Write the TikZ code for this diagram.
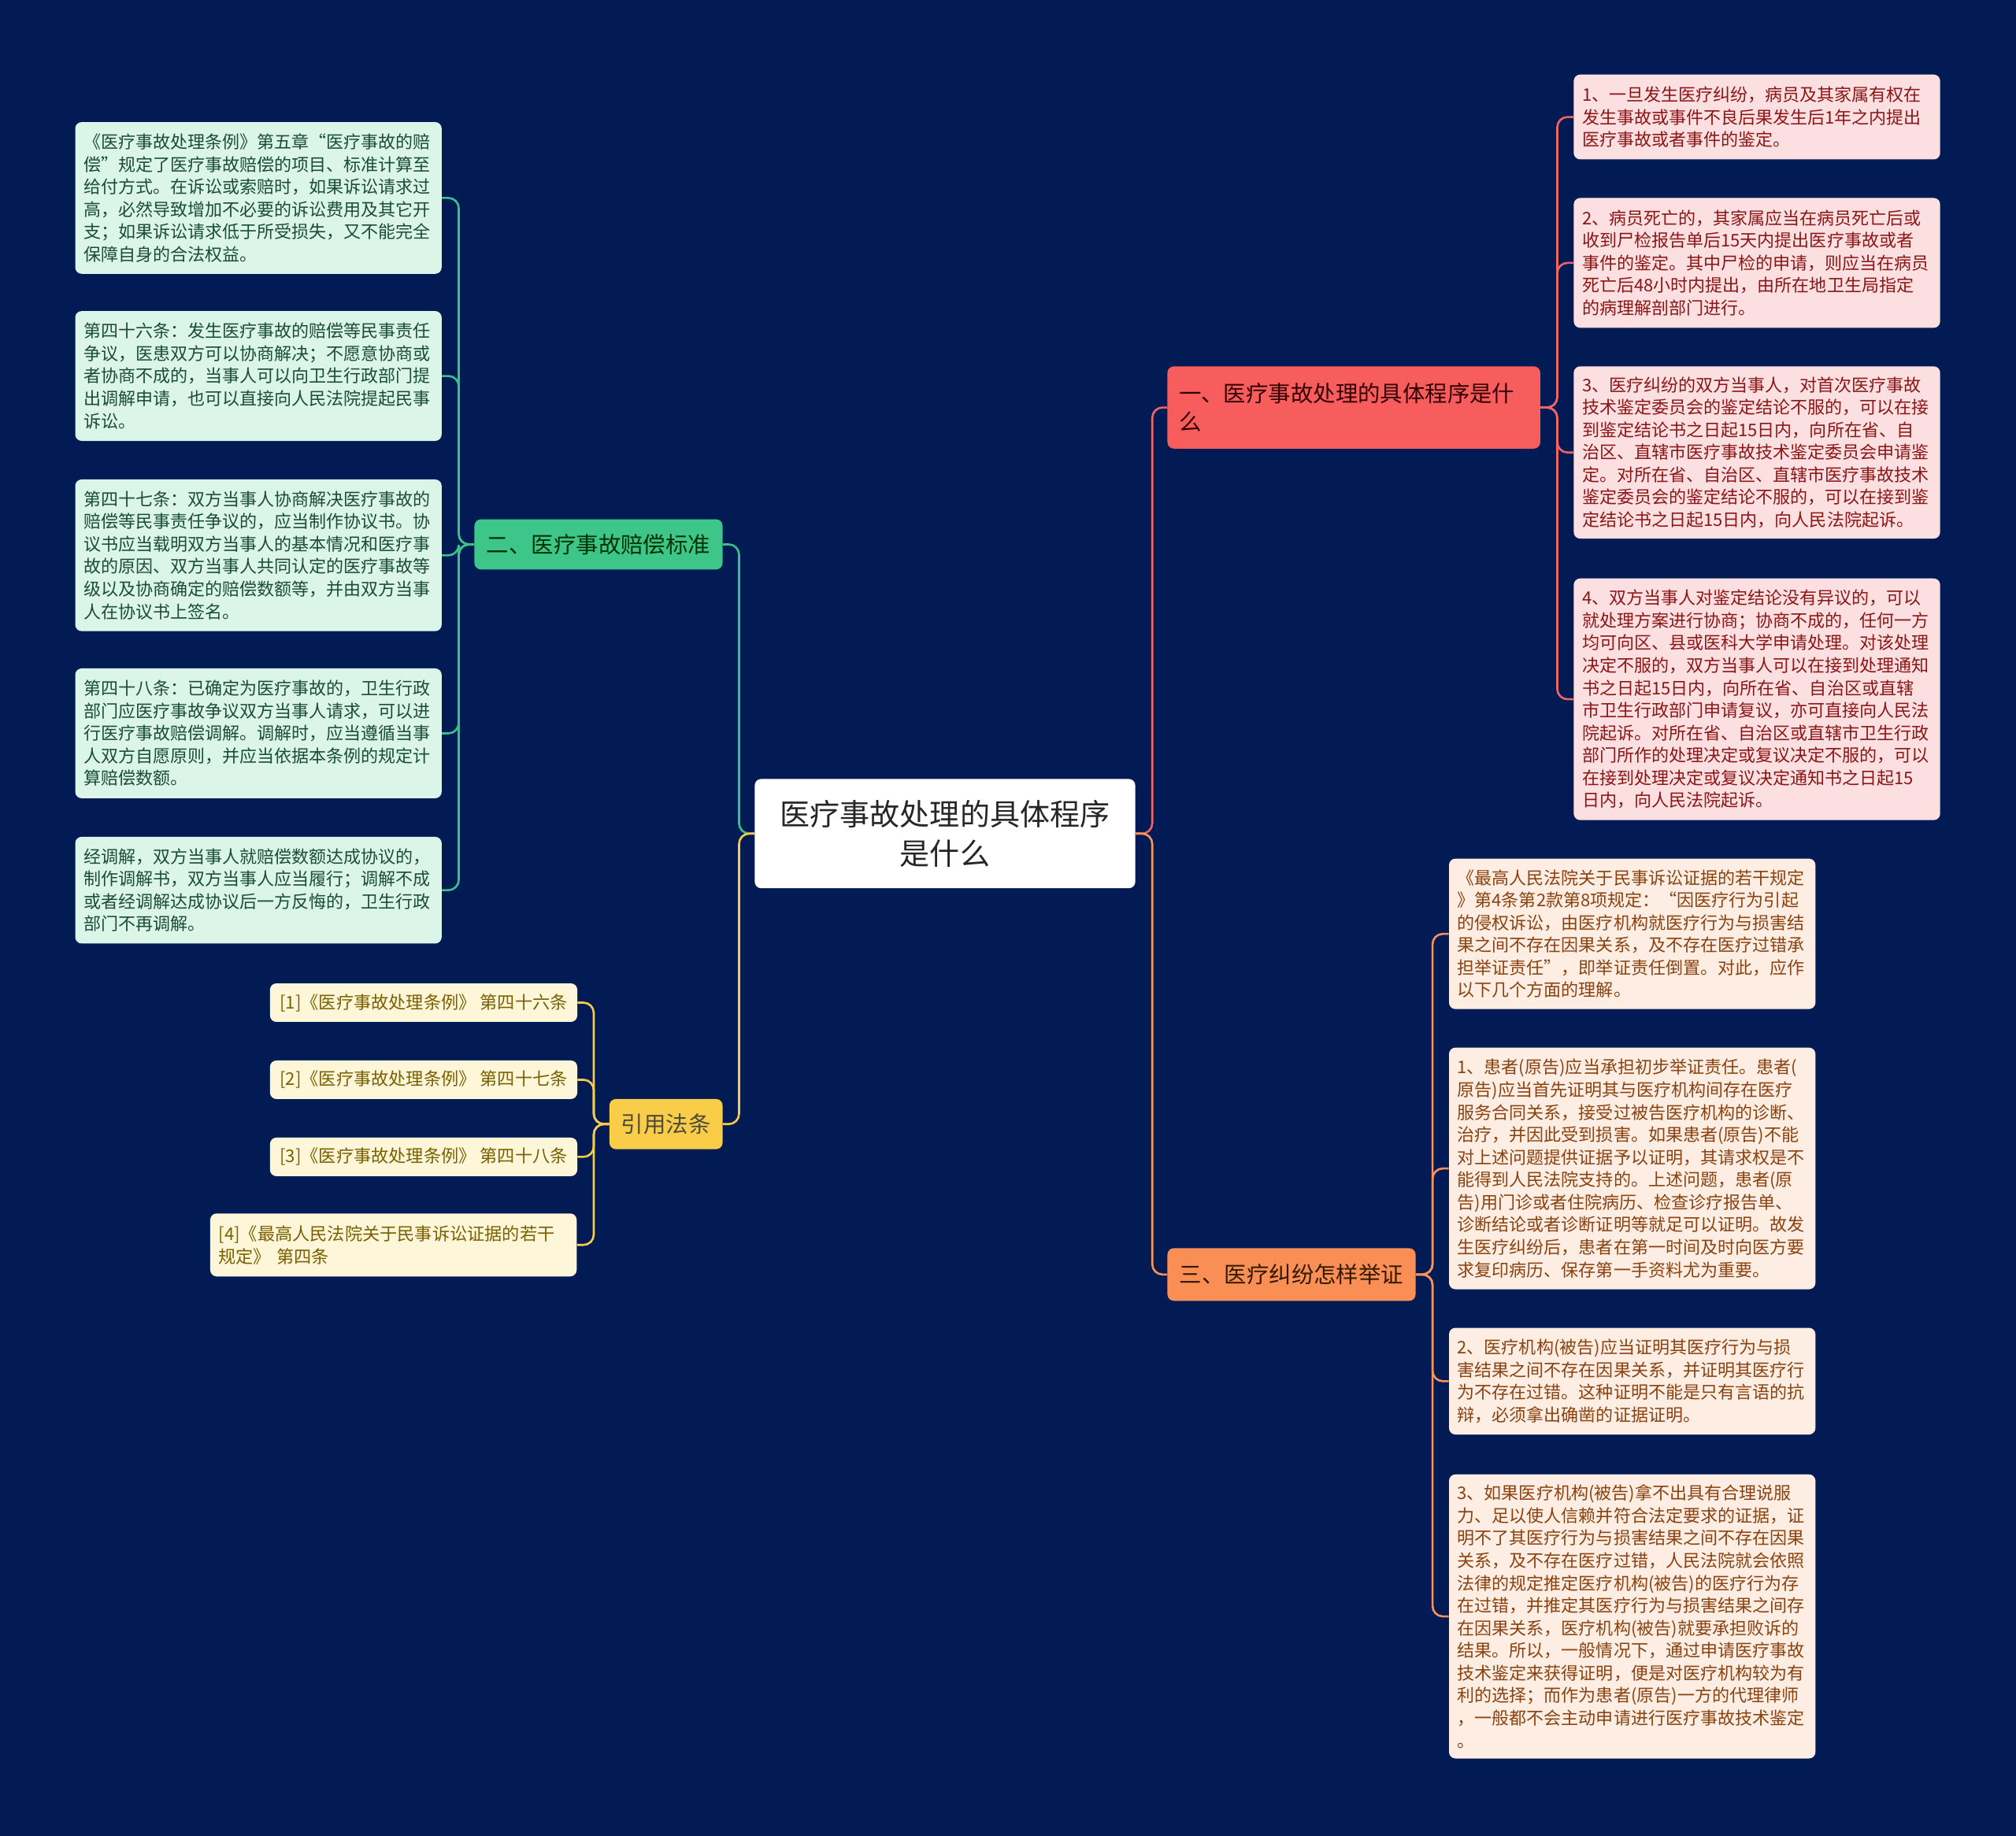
\documentclass[tikz,border=0pt]{standalone}
\usepackage{fontspec}
\setmainfont{Noto Sans CJK SC}
\usepackage{xcolor}
\usepackage{tikz}
\usetikzlibrary{positioning}
\definecolor{cBack}{HTML}{021B55}
\definecolor{cRed}{HTML}{F75D5D}
\definecolor{cRedLine}{HTML}{F26464}
\definecolor{cRedLeaf}{HTML}{FCDFE0}
\definecolor{cRedText}{HTML}{8C1616}
\definecolor{cOrange}{HTML}{FA8F55}
\definecolor{cOrangeLine}{HTML}{F9935A}
\definecolor{cOrangeLeaf}{HTML}{FDEDE2}
\definecolor{cOrangeText}{HTML}{8A4210}
\definecolor{cGreen}{HTML}{3DC58A}
\definecolor{cGreenLine}{HTML}{3CC08A}
\definecolor{cGreenLeaf}{HTML}{DBF5E9}
\definecolor{cGreenText}{HTML}{1B4D36}
\definecolor{cYellow}{HTML}{F9CD47}
\definecolor{cYellowLine}{HTML}{F7CC4A}
\definecolor{cYellowLeaf}{HTML}{FEF6D9}
\definecolor{cYellowText}{HTML}{7A6000}
\tikzset{
  rootbox/.style={rectangle, rounded corners=5pt, fill=white, text=black!85, align=center, minimum width=296pt, minimum height=85pt, inner sep=0pt, font=\fontsize{23.3pt}{31pt}\selectfont},
  mainbox/.style={rectangle, rounded corners=5pt, align=left, inner xsep=9pt, inner ysep=0pt, font=\fontsize{17.4pt}{22pt}\selectfont},
  leafbox/.style={rectangle, rounded corners=5pt, align=left, text width=272pt, inner xsep=6.5pt, inner ysep=0pt, font=\fontsize{13.5pt}{17.5pt}\selectfont},
  refbox/.style={rectangle, rounded corners=5pt, align=left, inner xsep=6.5pt, inner ysep=0pt, fill=cYellowLeaf, text=cYellowText, font=\fontsize{13.6pt}{17.5pt}\selectfont},
  link/.style={line width=1.6pt, rounded corners=8pt}
}

\begin{document}
\begin{tikzpicture}[x=1pt, y=-1pt]
  \useasboundingbox (0,0) rectangle (1568,1428);
  \fill[cBack] (-4,-4) rectangle (1572,1432);
  \node[rootbox] (root) at (735,648.5) {医疗事故处理的具体程序\\是什么};
  \node[mainbox, fill=cRed, text=black!80!red, text width=272pt, minimum height=64pt] (b1) at (1053,317) {一、医疗事故处理的具体程序是什\\么};
  \node[mainbox, fill=cOrange, text=black!80!orange, minimum width=193pt, minimum height=41pt] (b3) at (1004.5,991.5) {三、医疗纠纷怎样举证};
  \node[mainbox, fill=cGreen, text=black!80!green, minimum width=193pt, minimum height=39pt] (b2) at (465.5,423.5) {二、医疗事故赔偿标准};
  \node[mainbox, fill=cYellow, text=black!80!yellow, minimum width=88pt, minimum height=39pt] (y0) at (518,874.5) {引用法条};
  \node[leafbox, fill=cRedLeaf, text=cRedText, minimum height=66pt] (r1) at (1366.5,91) {1、一旦发生医疗纠纷，病员及其家属有权在\\发生事故或事件不良后果发生后1年之内提出\\医疗事故或者事件的鉴定。};
  \node[leafbox, fill=cRedLeaf, text=cRedText, minimum height=101pt] (r2) at (1366.5,204.5) {2、病员死亡的，其家属应当在病员死亡后或\\收到尸检报告单后15天内提出医疗事故或者\\事件的鉴定。其中尸检的申请，则应当在病员\\死亡后48小时内提出，由所在地卫生局指定\\的病理解剖部门进行。};
  \node[leafbox, fill=cRedLeaf, text=cRedText, minimum height=134pt] (r3) at (1366.5,352) {3、医疗纠纷的双方当事人，对首次医疗事故\\技术鉴定委员会的鉴定结论不服的，可以在接\\到鉴定结论书之日起15日内，向所在省、自\\治区、直辖市医疗事故技术鉴定委员会申请鉴\\定。对所在省、自治区、直辖市医疗事故技术\\鉴定委员会的鉴定结论不服的，可以在接到鉴\\定结论书之日起15日内，向人民法院起诉。};
  \node[leafbox, fill=cRedLeaf, text=cRedText, minimum height=188pt] (r4) at (1366.5,544) {4、双方当事人对鉴定结论没有异议的，可以\\就处理方案进行协商；协商不成的，任何一方\\均可向区、县或医科大学申请处理。对该处理\\决定不服的，双方当事人可以在接到处理通知\\书之日起15日内，向所在省、自治区或直辖\\市卫生行政部门申请复议，亦可直接向人民法\\院起诉。对所在省、自治区或直辖市卫生行政\\部门所作的处理决定或复议决定不服的，可以\\在接到处理决定或复议决定通知书之日起15\\日内，向人民法院起诉。};
  \node[leafbox, fill=cOrangeLeaf, text=cOrangeText, minimum height=117pt] (o1) at (1269.5,726.5) {《最高人民法院关于民事诉讼证据的若干规定\\》第4条第2款第8项规定：“因医疗行为引起\\的侵权诉讼，由医疗机构就医疗行为与损害结\\果之间不存在因果关系，及不存在医疗过错承\\担举证责任”，即举证责任倒置。对此，应作\\以下几个方面的理解。};
  \node[leafbox, fill=cOrangeLeaf, text=cOrangeText, minimum height=188pt] (o2) at (1269.5,909) {1、患者(原告)应当承担初步举证责任。患者(\\原告)应当首先证明其与医疗机构间存在医疗\\服务合同关系，接受过被告医疗机构的诊断、\\治疗，并因此受到损害。如果患者(原告)不能\\对上述问题提供证据予以证明，其请求权是不\\能得到人民法院支持的。上述问题，患者(原\\告)用门诊或者住院病历、检查诊疗报告单、\\诊断结论或者诊断证明等就足可以证明。故发\\生医疗纠纷后，患者在第一时间及时向医方要\\求复印病历、保存第一手资料尤为重要。};
  \node[leafbox, fill=cOrangeLeaf, text=cOrangeText, minimum height=83pt] (o3) at (1269.5,1074.5) {2、医疗机构(被告)应当证明其医疗行为与损\\害结果之间不存在因果关系，并证明其医疗行\\为不存在过错。这种证明不能是只有言语的抗\\辩，必须拿出确凿的证据证明。};
  \node[leafbox, fill=cOrangeLeaf, text=cOrangeText, minimum height=221pt] (o4) at (1269.5,1257.5) {3、如果医疗机构(被告)拿不出具有合理说服\\力、足以使人信赖并符合法定要求的证据，证\\明不了其医疗行为与损害结果之间不存在因果\\关系，及不存在医疗过错，人民法院就会依照\\法律的规定推定医疗机构(被告)的医疗行为存\\在过错，并推定其医疗行为与损害结果之间存\\在因果关系，医疗机构(被告)就要承担败诉的\\结果。所以，一般情况下，通过申请医疗事故\\技术鉴定来获得证明，便是对医疗机构较为有\\利的选择；而作为患者(原告)一方的代理律师\\，一般都不会主动申请进行医疗事故技术鉴定\\。};
  \node[leafbox, fill=cGreenLeaf, text=cGreenText, minimum height=118pt] (g1) at (201,154) {《医疗事故处理条例》第五章“医疗事故的赔\\偿”规定了医疗事故赔偿的项目、标准计算至\\给付方式。在诉讼或索赔时，如果诉讼请求过\\高，必然导致增加不必要的诉讼费用及其它开\\支；如果诉讼请求低于所受损失，又不能完全\\保障自身的合法权益。};
  \node[leafbox, fill=cGreenLeaf, text=cGreenText, minimum height=101pt] (g2) at (201,292.5) {第四十六条：发生医疗事故的赔偿等民事责任\\争议，医患双方可以协商解决；不愿意协商或\\者协商不成的，当事人可以向卫生行政部门提\\出调解申请，也可以直接向人民法院提起民事\\诉讼。};
  \node[leafbox, fill=cGreenLeaf, text=cGreenText, minimum height=118pt] (g3) at (201,432) {第四十七条：双方当事人协商解决医疗事故的\\赔偿等民事责任争议的，应当制作协议书。协\\议书应当载明双方当事人的基本情况和医疗事\\故的原因、双方当事人共同认定的医疗事故等\\级以及协商确定的赔偿数额等，并由双方当事\\人在协议书上签名。};
  \node[leafbox, fill=cGreenLeaf, text=cGreenText, minimum height=101pt] (g4) at (201,570.5) {第四十八条：已确定为医疗事故的，卫生行政\\部门应医疗事故争议双方当事人请求，可以进\\行医疗事故赔偿调解。调解时，应当遵循当事\\人双方自愿原则，并应当依据本条例的规定计\\算赔偿数额。};
  \node[leafbox, fill=cGreenLeaf, text=cGreenText, minimum height=83pt] (g5) at (201,692.5) {经调解，双方当事人就赔偿数额达成协议的，\\制作调解书，双方当事人应当履行；调解不成\\或者经调解达成协议后一方反悔的，卫生行政\\部门不再调解。};
  \node[refbox, minimum width=239pt, minimum height=30pt] (y1) at (329.5,780) {[1]《医疗事故处理条例》 第四十六条};
  \node[refbox, minimum width=239pt, minimum height=30pt] (y2) at (329.5,840) {[2]《医疗事故处理条例》 第四十七条};
  \node[refbox, minimum width=239pt, minimum height=30pt] (y3) at (329.5,900) {[3]《医疗事故处理条例》 第四十八条};
  \node[refbox, text width=272pt, minimum height=49pt] (y4) at (306,968.5) {[4]《最高人民法院关于民事诉讼证据的若干\\规定》 第四条};
  \draw[link, draw=cRedLine] (root.east) -- ++(13,0) |- (b1.west);
  \draw[link, draw=cOrangeLine] (root.east) -- ++(13,0) |- (b3.west);
  \draw[link, draw=cGreenLine] (root.west) -- ++(-12,0) |- (b2.east);
  \draw[link, draw=cYellowLine] (root.west) -- ++(-12,0) |- (y0.east);
  \draw[link, draw=cRedLine] (b1.east) -- ++(13,0) |- (r1.west);
  \draw[link, draw=cRedLine] (b1.east) -- ++(13,0) |- (r2.west);
  \draw[link, draw=cRedLine] (b1.east) -- ++(13,0) |- (r3.west);
  \draw[link, draw=cRedLine] (b1.east) -- ++(13,0) |- (r4.west);
  \draw[link, draw=cOrangeLine] (b3.east) -- ++(13,0) |- (o1.west);
  \draw[link, draw=cOrangeLine] (b3.east) -- ++(13,0) |- (o2.west);
  \draw[link, draw=cOrangeLine] (b3.east) -- ++(13,0) |- (o3.west);
  \draw[link, draw=cOrangeLine] (b3.east) -- ++(13,0) |- (o4.west);
  \draw[link, draw=cGreenLine] (b2.west) -- ++(-12,0) |- (g1.east);
  \draw[link, draw=cGreenLine] (b2.west) -- ++(-12,0) |- (g2.east);
  \draw[link, draw=cGreenLine] (b2.west) -- ++(-12,0) |- (g3.east);
  \draw[link, draw=cGreenLine] (b2.west) -- ++(-12,0) |- (g4.east);
  \draw[link, draw=cGreenLine] (b2.west) -- ++(-12,0) |- (g5.east);
  \draw[link, draw=cYellowLine] (y0.west) -- ++(-12,0) |- (y1.east);
  \draw[link, draw=cYellowLine] (y0.west) -- ++(-12,0) |- (y2.east);
  \draw[link, draw=cYellowLine] (y0.west) -- ++(-12,0) |- (y3.east);
  \draw[link, draw=cYellowLine] (y0.west) -- ++(-12,0) |- (y4.east);
\end{tikzpicture}
\end{document}
